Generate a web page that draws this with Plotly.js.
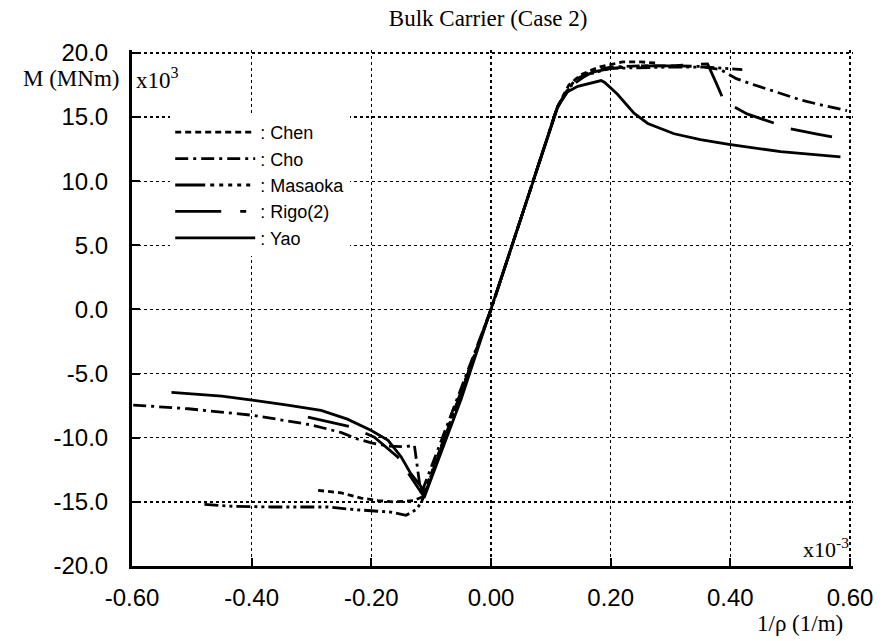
<!DOCTYPE html>
<html>
<head>
<meta charset="utf-8">
<script src="https://cdn.plot.ly/plotly-3.0.1.min.js"></script>
<style>html,body{margin:0;padding:0;background:#fff;}#chart{width:883px;height:641px;}</style>
</head>
<body>
<div id="chart"></div>
<script>
// curvature 1/rho (x10^-3 1/m) and moment M (x10^3 MNm)
const chenX = [-0.289,-0.25,-0.217,-0.189,-0.162,-0.129,-0.114,0,0.05,0.111,0.13,0.15,0.18,0.20,0.22,0.25,0.28];
const chenY = [-14.1,-14.3,-14.7,-14.9,-15.0,-14.9,-14.6,0,7.1,15.8,17.5,18.3,18.9,19.1,19.3,19.3,19.2];

const choX = [-0.598,-0.506,-0.451,-0.396,-0.339,-0.30,-0.25,-0.223,-0.20,-0.172,-0.145,-0.128,-0.117,0,0.05,0.111,0.14,0.17,0.20,0.25,0.30,0.35,0.384,0.41,0.434,0.46,0.488,0.52,0.556,0.595];
const choY = [-7.45,-7.74,-8.0,-8.26,-8.7,-9.0,-9.6,-10.1,-10.4,-10.65,-10.7,-10.6,-14.4,0,7.1,15.8,17.9,18.6,18.9,19.0,19.0,18.95,18.7,18.0,17.6,17.2,16.8,16.3,15.9,15.5];

const masaokaX = [-0.479,-0.429,-0.367,-0.272,-0.229,-0.167,-0.142,-0.125,-0.116,0,0.05,0.111,0.13,0.16,0.20,0.30,0.36,0.42];
const masaokaY = [-15.2,-15.35,-15.4,-15.4,-15.6,-15.8,-16.05,-15.6,-15.0,0,7.1,15.8,17.3,18.3,18.8,18.9,18.9,18.7];

const rigoX = [-0.306,-0.234,-0.195,-0.156,-0.134,-0.117,-0.112,0,0.05,0.111,0.14,0.17,0.20,0.25,0.30,0.362,0.375,0.39,0.428,0.501,0.543,0.601];
const rigoY = [-8.4,-9.15,-9.95,-11.5,-13.06,-14.3,-14.6,0,7.1,15.8,17.8,18.5,18.8,19.0,19.0,19.15,17.8,16.2,15.25,14.08,13.7,13.17];

const yaoX = [-0.534,-0.45,-0.396,-0.34,-0.284,-0.24,-0.2,-0.172,-0.15,-0.134,-0.117,-0.112,-0.05,0,0.05,0.111,0.125,0.145,0.184,0.19,0.211,0.239,0.262,0.306,0.35,0.395,0.484,0.584];
const yaoY = [-6.47,-6.75,-7.09,-7.45,-7.87,-8.55,-9.43,-10.2,-11.5,-12.8,-13.8,-14.7,-7.0,0,7.1,15.7,16.9,17.4,17.85,17.7,16.8,15.3,14.5,13.7,13.25,12.9,12.3,11.9];

const seriesNames = [': Chen', ': Cho', ': Masaoka', ': Rigo(2)', ': Yao'];

const xTickVals = [-0.6,-0.4,-0.2,0,0.2,0.4,0.6];
const xTickText = ['-0.60','-0.40','-0.20','0.00','0.20','0.40','0.60'];
const yTickVals = [-20,-15,-10,-5,0,5,10,15,20];
const yTickText = ['-20.0','-15.0','-10.0','-5.0','0.0','5.0','10.0','15.0','20.0'];

const dashes = ['6px,4px', '13px,5px,3px,5px', '14px,4px,3px,4px,3px,4px', '42px,18px', 'solid'];
const legendDashes = ['6px,4px', '13px,5px,3px,5px', '30px,5px,4px,5px,4px,5px,4px,5px,4px,5px,4px,5px', '46px,19px,6px,40px', 'solid'];
const xs = [chenX, choX, masaokaX, rigoX, yaoX];
const ys = [chenY, choY, masaokaY, rigoY, yaoY];

const traces = xs.map((x, i) => ({
  x: x, y: ys[i], type: 'scatter', mode: 'lines', name: seriesNames[i], showlegend: false,
  line: {color: '#000', width: 2.8, dash: dashes[i]}
}));
// legend-only entries (no data drawn) so the legend samples show each dash pattern
const legendTraces = seriesNames.map((n, i) => ({
  x: [null], y: [null], type: 'scatter', mode: 'lines', name: n, showlegend: true,
  line: {color: '#000', width: 2.8, dash: legendDashes[i]}
}));

const sans = 'Liberation Sans, Arial, sans-serif';
const serif = 'Liberation Serif, Times New Roman, serif';

const layout = {
  width: 883, height: 641,
  margin: {l: 132, r: 30, t: 50, b: 75},
  paper_bgcolor: '#fff', plot_bgcolor: '#fff',
  showlegend: true,
  title: {text: 'Bulk Carrier (Case 2)', font: {family: serif, size: 23, color: '#000'},
          x: 0.494, xref: 'paper', xanchor: 'center', y: 0.972, yref: 'container', yanchor: 'middle'},
  xaxis: {
    range: [-0.6, 0.605], tickvals: xTickVals, ticktext: xTickText,
    showgrid: true, gridcolor: '#000', gridwidth: 1.3, griddash: 'dot',
    zeroline: false, showline: true, linecolor: '#000', linewidth: 3,
    ticks: 'inside', ticklen: 8, tickwidth: 2, tickcolor: '#000',
    tickfont: {family: sans, size: 24, color: '#000'}, ticklabelstandoff: 8
  },
  yaxis: {
    range: [-20, 20.23], tickvals: yTickVals, ticktext: yTickText,
    showgrid: true, gridcolor: '#000', gridwidth: 1.3, griddash: 'dot',
    zeroline: false, showline: true, linecolor: '#000', linewidth: 3,
    ticks: 'inside', ticklen: 8, tickwidth: 2, tickcolor: '#000',
    tickfont: {family: sans, size: 24, color: '#000'}, ticklabelstandoff: 16
  },
  legend: {
    x: 0.053, y: 0.876, xanchor: 'left', yanchor: 'top',
    bgcolor: '#fff', borderwidth: 0, font: {family: sans, size: 18, color: '#000'},
    tracegroupgap: 0, itemwidth: 80
  },
  annotations: [
    {text: 'M (MNm)', xref: 'paper', yref: 'paper', x: 0, y: 0.944, xanchor: 'right', yanchor: 'middle',
     xshift: -11, showarrow: false, font: {family: serif, size: 23, color: '#000'}},
    {text: 'x10<sup>3</sup>', xref: 'paper', yref: 'paper', x: 0, y: 0.944, xanchor: 'left', yanchor: 'middle',
     xshift: 2, showarrow: false, font: {family: serif, size: 23, color: '#000'}},
    {text: 'x10<sup>-3</sup>', xref: 'paper', yref: 'paper', x: 1, y: 0.035, xanchor: 'right', yanchor: 'middle',
     xshift: -2, showarrow: false, font: {family: serif, size: 22, color: '#000'}},
    {text: '1/ρ (1/m)', xref: 'paper', yref: 'paper', x: 0.926, y: -0.111, xanchor: 'center', yanchor: 'middle',
     showarrow: false, font: {family: serif, size: 23, color: '#000'}}
  ]
};

Plotly.newPlot('chart', traces.concat(legendTraces), layout, {displayModeBar: false, staticPlot: true});
</script>
</body>
</html>
